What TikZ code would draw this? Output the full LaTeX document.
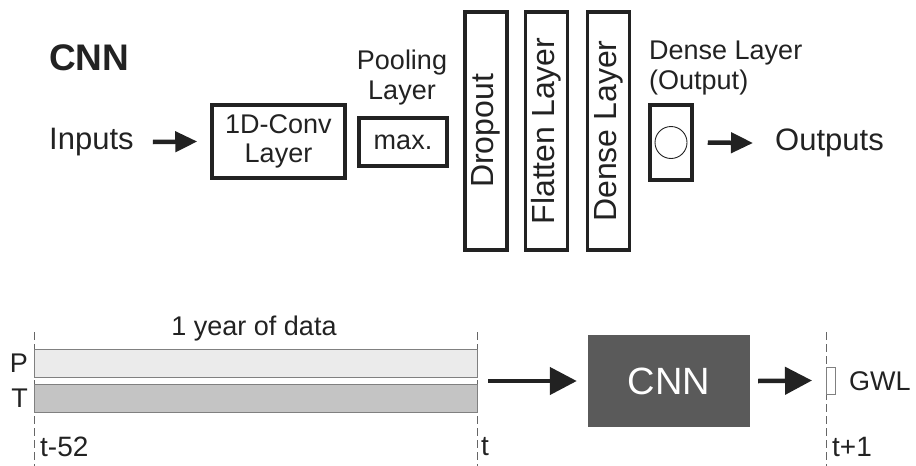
\documentclass[tikz,border=0pt]{standalone}
\usepackage{fontspec}
\setmainfont{Liberation Sans}
\usepackage{xcolor}
\usetikzlibrary{arrows.meta}
\definecolor{ink}{HTML}{222222}
\definecolor{barP}{HTML}{EBEBEB}
\definecolor{barT}{HTML}{C4C4C4}
\definecolor{cnnfill}{HTML}{5A5A5A}
\newcommand{\fs}[2]{\fontsize{#1}{#2}\selectfont}
\tikzset{
  layer/.style={draw=ink, line width=3.5pt, inner sep=0pt, text=ink, align=center, font=\fs{27}{29}},
  lbl/.style={text=ink, inner sep=0pt, font=\fs{27}{30}},
  arr/.style={draw=ink, line width=4.5pt, -{Triangle[length=22pt,width=20pt]}},
  bigarr/.style={draw=ink, line width=4.5pt, -{Triangle[length=27pt,width=27pt]}},
  bar/.style={draw=gray, line width=0.8pt, anchor=north west, minimum width=443pt, minimum height=28pt, inner sep=0pt},
  timeline/.style={draw=gray!80!black, line width=0.9pt, dash pattern=on 8pt off 4pt}
}
\begin{document}
\begin{tikzpicture}[x=1pt,y=-1pt]
  \useasboundingbox (0,0) rectangle (916,466);
  \node[lbl, font=\fs{37}{40}\bfseries, anchor=west] (title) at (49,58) {CNN};
  \node[lbl, font=\fs{31}{36}, anchor=west] (in) at (49,142) {Inputs};
  \node[layer, minimum width=133pt, minimum height=73pt] (conv) at (278.5,141.5) {1D-Conv\\Layer};
  \node[lbl, align=center] (poollbl) at (402,78) {Pooling\\Layer};
  \node[layer, minimum width=88pt, minimum height=48pt] (pool) at (403,142) {max.};
  \foreach \n/\x/\t in {drop/486/Dropout, flat/546.5/Flatten Layer, dense/608.5/Dense Layer}
    \node[layer, font=\fs{32}{36}, rotate=90, minimum width=238pt, minimum height=42pt] (\n) at (\x,131) {\t};
  \node[layer, minimum width=42pt, minimum height=75pt] (out) at (671,142.5) {};
  \node[draw=ink, circle, line width=0.9pt, minimum size=32pt, inner sep=0pt] (unit) at (out) {};
  \node[lbl, align=left, anchor=west] (outlbl) at (649,68) {Dense Layer\\(Output)};
  \node[lbl, font=\fs{31}{36}, anchor=west] (outs) at (775,143) {Outputs};
  \draw[arr] ([xshift=19]in.east) -- ([xshift=-13]conv.west);
  \draw[arr] ([xshift=14]out.east) -- ([xshift=-22]outs.west);
  \foreach \n/\x in {start/34, now/477, next/826}
    {\coordinate (\n) at (\x,332);
    \draw[timeline] (\n) -- ++(0,134);}
  \node[bar, fill=barP] (P) at (34,349) {};
  \node[bar, fill=barT] (T) at (34,384) {};
  \node[lbl] (year) at (254,329) {1 year of data};
  \node[lbl, anchor=east] (plbl) at ([xshift=-6]P.west) {P};
  \node[lbl, anchor=east] (tlbl) at ([xshift=-6]T.west) {T};
  \node[fill=cnnfill, minimum width=162pt, minimum height=92pt, text=white, font=\fs{38}{40}] (cnn) at (669,381) {CNN};
  \node[draw=gray, line width=0.8pt, fill=white, minimum width=9pt, minimum height=27pt, inner sep=0pt, anchor=west] (gwl) at (826,380.5) {};
  \node[lbl, anchor=west] (gwllbl) at (849,381) {GWL};
  \draw[bigarr] ([xshift=11]now |- cnn) -- ([xshift=-11]cnn.west);
  \draw[bigarr] ([xshift=8]cnn.east) -- ([xshift=-14]gwl.west);
  \foreach \n/\x/\t in {start/40/t-52, now/481/t, next/832/t+1}
    \node[lbl, font=\fs{28}{34}, anchor=west] (\n lbl) at (\x,447) {\t};
\end{tikzpicture}
\end{document}
